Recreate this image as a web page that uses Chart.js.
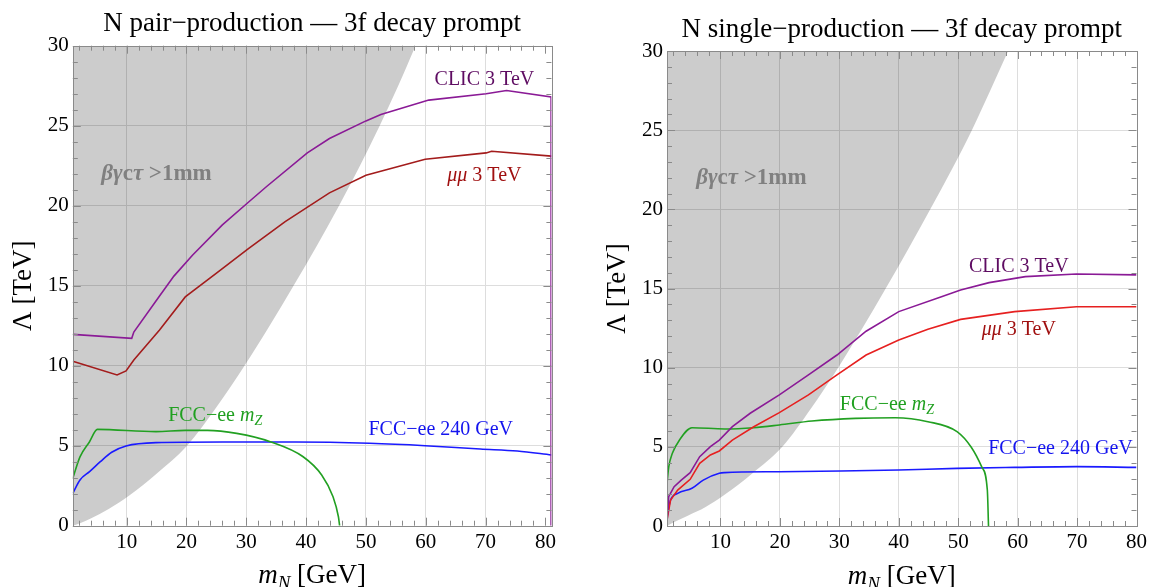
<!DOCTYPE html>
<html>
<head>
<meta charset="utf-8">
<script src="https://cdn.jsdelivr.net/npm/chart.js@4.4.1/dist/chart.umd.min.js"></script>
<style>
html, body { margin: 0; padding: 0; background: #fff; width: 1151px; height: 587px; overflow: hidden; }
.box { position: absolute; top: 0; height: 587px; }
</style>
</head>
<body>
<div class="box" style="left:0;width:575px"><canvas id="pairChart" width="575" height="587"></canvas></div>
<div class="box" style="left:575px;width:576px"><canvas id="singleChart" width="576" height="587"></canvas></div>
<script>
// tick labels
const xTickValues = [10, 20, 30, 40, 50, 60, 70, 80];
const yTickValues = [0, 5, 10, 15, 20, 25, 30];

// ---- N pair-production: [m_N in GeV, Lambda in TeV] ----
const pairDisplaced = [[1.1, 0], [2.2, 0.15], [4, 0.45], [7, 1.05], [10.5, 1.9], [15, 3.25], [20.1, 5], [25, 7.4], [29.7, 10], [33.9, 12.5], [37.9, 15], [41.8, 17.5], [45.5, 20], [49, 22.5], [52.3, 25], [55.4, 27.5], [58.3, 30]];
const pairClic = [[1, 11.96], [10.85, 11.71], [11.2, 12.1], [15.2, 14.2], [17.9, 15.6], [21, 16.9], [26, 18.8], [30.3, 20.2], [33.4, 21.2], [40.2, 23.3], [43.9, 24.2], [50, 25.3], [52.5, 25.7], [60.5, 26.6], [70.1, 27.0], [73.5, 27.2], [80.95, 26.8], [80.95, 0]];
const pairMuon = [[1, 10.28], [8.4, 9.42], [9.9, 9.67], [11.2, 10.36], [15.5, 12.23], [19.8, 14.3], [25.4, 15.9], [30.3, 17.3], [36.5, 19.0], [43.9, 20.8], [50, 21.9], [59.9, 22.9], [70.1, 23.3], [71, 23.4], [81, 23.1]];
const pairFccZ = [[1, 2.96], [2.2, 4.3], [3.8, 5.25], [5.1, 6.02], [14.9, 5.88], [19.8, 5.96], [23.5, 5.96], [28.4, 5.77], [34, 5.25], [39.5, 4.31], [42.6, 3.17], [44.5, 1.81], [45.4, 0.56], [45.6, 0]];
const pairFcc240 = [[1, 2.02], [2.2, 2.86], [3.8, 3.38], [5.6, 4.0], [7.5, 4.59], [9.9, 4.98], [14.9, 5.19], [26, 5.23], [38.3, 5.23], [50.6, 5.15], [59.9, 5.0], [69.1, 4.79], [75.3, 4.67], [81, 4.42]];

// ---- N single-production ----
const singleDisplaced = [[1, 0], [2.5, 0.3], [4.5, 0.65], [7.5, 1.2], [10.8, 2.0], [15.3, 3.3], [20.4, 5], [25.2, 7.4], [29.8, 10], [33.9, 12.5], [37.8, 15], [41.6, 17.5], [45.3, 20], [48.9, 22.5], [52.3, 25], [55.4, 27.5], [58.4, 30]];
const singleClic = [[1, 0.17], [1.28, 1.85], [2.2, 2.48], [3.4, 2.9], [4.9, 3.37], [6.5, 4.38], [8.3, 5.01], [9.8, 5.43], [12, 6.27], [15, 7.12], [19.9, 8.28], [24.8, 9.54], [29.6, 10.8], [34.5, 12.3], [40, 13.54], [47.3, 14.49], [50.4, 14.9], [55.2, 15.37], [61.3, 15.75], [69.9, 15.92], [80, 15.86]];
const singleMuon = [[1, 0.38], [1.6, 1.64], [2.8, 2.27], [4.9, 2.95], [6.5, 3.96], [8.3, 4.49], [9.8, 4.74], [12, 5.43], [15.6, 6.27], [19.9, 7.16], [24.8, 8.28], [29.6, 9.54], [34.5, 10.8], [40, 11.75], [44.9, 12.42], [50.4, 13.05], [59.5, 13.54], [69.9, 13.85], [80, 13.85]];
const singleFccZ = [[1, 2.7], [1.3, 3.75], [1.9, 4.59], [3.1, 5.43], [5.2, 6.21], [10.7, 6.13], [15.6, 6.21], [19.9, 6.38], [25.4, 6.63], [32.7, 6.8], [39.4, 6.84], [44.9, 6.59], [49.8, 5.96], [52.2, 4.97], [54, 3.7], [54.9, 2.27], [55.1, 0]];
const singleFcc240 = [[1, 0.59], [1.6, 1.64], [2.8, 2.06], [5.2, 2.38], [7.1, 2.9], [9.8, 3.33], [10.7, 3.37], [19.9, 3.43], [30.2, 3.47], [40, 3.54], [49.8, 3.64], [59.5, 3.7], [69.9, 3.75], [80, 3.7]];

const SERIF = '"Liberation Serif", "Times New Roman", serif';
Chart.defaults.font.family = SERIF;

const toXY = pts => pts.map(p => ({ x: p[0], y: p[1] }));

// draws a run of text pieces [text, style, size, dy] centred on (cx, cy)
function richText(ctx, parts, cx, cy, color) {
    const main = parts[0][2];
    let total = 0;
    const widths = parts.map(p => {
        ctx.font = `${p[1]} ${p[2]}px ${SERIF}`;
        const w = ctx.measureText(p[0]).width;
        total += w;
        return w;
    });
    let x = cx - total / 2;
    ctx.fillStyle = color;
    ctx.textAlign = 'left';
    ctx.textBaseline = 'alphabetic';
    parts.forEach((p, i) => {
        ctx.font = `${p[1]} ${p[2]}px ${SERIF}`;
        ctx.fillText(p[0], x, cy + main * 0.34 + (p[3] || 0));
        x += widths[i];
    });
}

// Mathematica-like frame: inward ticks on all four sides + texts
const framePlugin = {
    id: 'frame',
    afterDatasetsDraw(chart, args, opts) {
        const { ctx, chartArea: a, scales: { x, y } } = chart;
        ctx.save();
        ctx.strokeStyle = '#8a8a8a';
        ctx.lineWidth = 1;
        ctx.beginPath();
        for (let v = Math.ceil(x.min / 2) * 2; v <= x.max; v += 2) {
            const px = Math.round(x.getPixelForValue(v)) + 0.5;
            const len = v % 10 === 0 ? 8 : 5;
            ctx.moveTo(px, a.bottom); ctx.lineTo(px, a.bottom - len);
            ctx.moveTo(px, a.top); ctx.lineTo(px, a.top + len);
        }
        for (let v = 0; v <= y.max; v += 1) {
            const py = Math.round(y.getPixelForValue(v)) + 0.5;
            const len = v % 5 === 0 ? 8 : 5;
            ctx.moveTo(a.left, py); ctx.lineTo(a.left + len, py);
            ctx.moveTo(a.right, py); ctx.lineTo(a.right - len, py);
        }
        ctx.stroke();
        ctx.strokeRect(Math.round(a.left) + 0.5, Math.round(a.top) + 0.5, Math.round(a.right - a.left), Math.round(a.bottom - a.top));
        ctx.restore();
    },
    afterDraw(chart, args, opts) {
        const { ctx, chartArea: a, scales: { x, y } } = chart;
        ctx.save();
        const cx = (a.left + a.right) / 2;
        richText(ctx, [[opts.title, '', 27]], cx, a.top - 23.5, '#000');
        richText(ctx, [['m', 'italic', 27], ['N', 'italic', 19, 6], [' [GeV]', '', 27]], cx, a.bottom + 48.5, '#000');
        ctx.save();
        ctx.translate(a.left - 51, (a.top + a.bottom) / 2);
        ctx.rotate(-Math.PI / 2);
        richText(ctx, [['Λ [TeV]', '', 27]], 0, 0, '#000');
        ctx.restore();
        opts.labels.forEach(l => {
            richText(ctx, l.parts, x.getPixelForValue(l.at[0]), y.getPixelForValue(l.at[1]), l.color);
        });
        ctx.restore();
    }
};

function lineSet(label, pts, color, smooth) {
    return {
        label,
        data: toXY(pts),
        borderColor: color,
        borderWidth: 1.6,
        pointRadius: 0,
        fill: false,
        cubicInterpolationMode: smooth ? 'monotone' : 'default',
        tension: 0
    };
}

function makeChart(id, xMax, sets, title, labels) {
    const xFit = 587 - sets.bottom;
    return new Chart(document.getElementById(id).getContext('2d'), {
        type: 'line',
        data: {
            datasets: [
                lineSet('CLIC 3 TeV', sets.clic, '#8a1a96', false),
                lineSet('μμ 3 TeV', sets.muon, sets.muonColor, false),
                lineSet('FCC-ee mZ', sets.fccZ, '#22a022', true),
                lineSet('FCC-ee 240 GeV', sets.fcc240, '#1a1aff', true),
                {
                    label: 'displaced',
                    data: toXY(sets.displaced),
                    borderWidth: 0,
                    pointRadius: 0,
                    backgroundColor: 'rgba(0,0,0,0.2)',
                    fill: 'end',
                    cubicInterpolationMode: 'monotone'
                }
            ]
        },
        options: {
            responsive: false,
            animation: false,
            devicePixelRatio: 1,
            layout: { padding: { top: sets.top, right: sets.right, left: 0, bottom: 0 } },
            plugins: {
                legend: { display: false },
                tooltip: { enabled: false },
                title: { display: false },
                frame: { title, labels }
            },
            scales: {
                x: {
                    type: 'linear',
                    min: 1,
                    max: xMax,
                    afterBuildTicks: s => { s.ticks = xTickValues.map(v => ({ value: v })); },
                    afterFit: s => { s.height = xFit; },
                    grid: {
                        color: c => (c.tick && c.tick.value === 80 ? 'rgba(0,0,0,0)' : '#dddddd'),
                        drawTicks: false
                    },
                    border: { display: false },
                    ticks: { color: '#000', font: { size: 21 }, padding: 4, maxRotation: 0, autoSkip: false }
                },
                y: {
                    type: 'linear',
                    min: 0,
                    max: 30,
                    afterBuildTicks: s => { s.ticks = yTickValues.map(v => ({ value: v })); },
                    afterFit: s => { s.width = sets.left; },
                    grid: {
                        color: c => (c.tick && (c.tick.value === 0 || c.tick.value === 30) ? 'rgba(0,0,0,0)' : '#dddddd'),
                        drawTicks: false
                    },
                    border: { display: false },
                    ticks: { color: '#000', font: { size: 21 }, padding: 4, autoSkip: false }
                }
            }
        },
        plugins: [framePlugin]
    });
}

const greekLabel = [['βγ', 'bold italic', 23], ['c', 'bold', 23], ['τ', 'bold italic', 23], [' >1mm', 'bold', 23]];
const muLabel = [['μμ', 'italic', 20], [' 3 TeV', '', 20]];
const fccZLabel = [['FCC−ee ', '', 20], ['m', 'italic', 20], ['Z', 'italic', 14, 4]];
const fcc240Label = [['FCC−ee 240 GeV', '', 20]];
const clicLabel = [['CLIC 3 TeV', '', 20]];

makeChart('pairChart', 81, {
    clic: pairClic, muon: pairMuon, muonColor: '#a31c1c', fccZ: pairFccZ, fcc240: pairFcc240,
    displaced: pairDisplaced, top: 45.7, right: 23.6, left: 72.8, bottom: 525.7
}, 'N pair−production — 3f decay prompt', [
    { parts: clicLabel, at: [69.8, 28.0], color: '#5e0c62' },
    { parts: muLabel, at: [69.8, 22.0], color: '#a01010' },
    { parts: greekLabel, at: [15.0, 22.1], color: '#808080' },
    { parts: fccZLabel, at: [24.8, 6.98], color: '#20a020' },
    { parts: fcc240Label, at: [62.5, 6.1], color: '#1414ee' }
]);

makeChart('singleChart', 80, {
    clic: singleClic, muon: singleMuon, muonColor: '#e62020', fccZ: singleFccZ, fcc240: singleFcc240,
    displaced: singleDisplaced, top: 51, right: 11, left: 92, bottom: 526
}, 'N single−production — 3f decay prompt', [
    { parts: clicLabel, at: [60.2, 16.5], color: '#5e0c62' },
    { parts: muLabel, at: [60.2, 12.5], color: '#a01010' },
    { parts: greekLabel, at: [15.2, 22.1], color: '#808080' },
    { parts: fccZLabel, at: [38.0, 7.77], color: '#20a020' },
    { parts: fcc240Label, at: [67.2, 5.0], color: '#1414ee' }
]);
</script>
</body>
</html>
